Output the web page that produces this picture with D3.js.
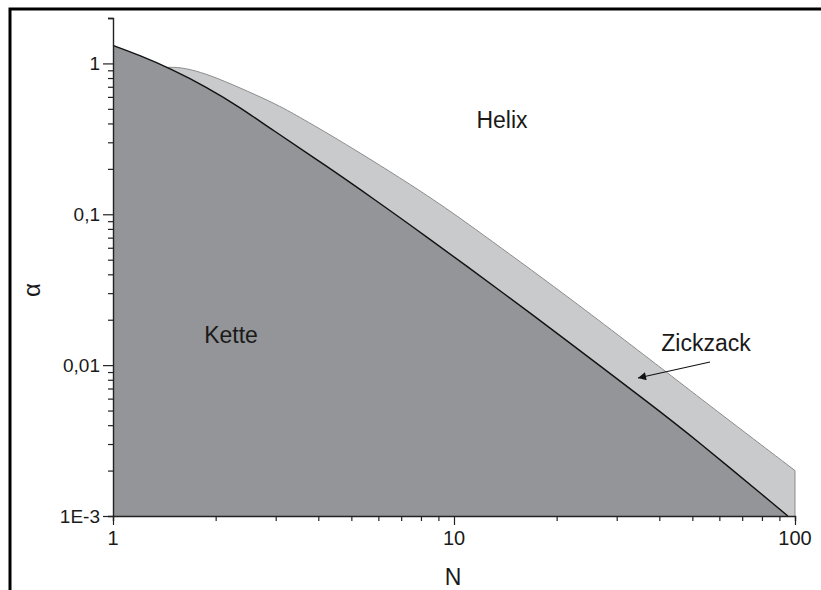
<!DOCTYPE html>
<html><head><meta charset="utf-8">
<script src="https://cdn.jsdelivr.net/npm/d3@7"></script>
<style>body{margin:0;background:#fff}svg{display:block}text{font-family:Arial,"Liberation Sans",sans-serif;fill:#1a1a1a}</style>
</head><body>
<script>
// Kette / Zickzack boundary (black curve)
const ketteN     = [1, 1.2, 1.47, 1.89, 2.36, 2.89, 4.2, 5.87, 7.95, 14.6, 20.5, 38.3, 50, 95.3];
const ketteAlpha = [1.316, 1.13, 0.927, 0.694, 0.511, 0.371, 0.211, 0.1245, 0.0764, 0.0279, 0.01567, 0.00536, 0.00336, 0.001];
// Zickzack / Helix boundary (grey curve)
const zickN     = [1.44, 1.57, 1.8, 2.10, 2.645, 3.09, 3.53, 4.85, 8.67, 12.5, 22.3, 50, 57.5, 100];
const zickAlpha = [0.941, 0.945, 0.88, 0.772, 0.614, 0.52, 0.44, 0.290, 0.1276, 0.0700, 0.0270, 0.00663, 0.00519, 0.0020];
const xTicks = [1, 10, 100];
const xTickLabels = ["1", "10", "100"];
const yTicks = [1, 0.1, 0.01, 0.001];
const yTickLabels = ["1", "0,1", "0,01", "1E-3"];
const regionLabels = ["Helix", "Kette", "Zickzack"];

const W = 821, H = 590;
const svg = d3.select("body").append("svg").attr("width", W).attr("height", H);

const x = d3.scaleLog().domain([1, 100]).range([113, 795]);
const y = d3.scaleLog().domain([0.001, 2]).range([516, 18]);

// outer frame (top & left)
svg.append("path").attr("d", `M10,${H} L10,9 L${W},9`).attr("fill", "none").attr("stroke", "#000").attr("stroke-width", 3);

const kette = ketteN.map((n, i) => [n, ketteAlpha[i]]);
const zick = zickN.map((n, i) => [n, zickAlpha[i]]);

const area = d3.area().x(d => x(d[0])).y0(y(0.001)).y1(d => y(d[1])).curve(d3.curveBasis);
const line = d3.line().x(d => x(d[0])).y(d => y(d[1])).curve(d3.curveBasis);

// Zickzack region
svg.append("path").datum(zick).attr("d", area).attr("fill", "#c9cacc");
svg.append("path").datum(zick).attr("d", line).attr("fill", "none").attr("stroke", "#8c8c8c").attr("stroke-width", 1);
// right vertical edge at N=100
svg.append("line").attr("x1", x(100)).attr("x2", x(100)).attr("y1", y(zickAlpha[zickAlpha.length-1])).attr("y2", y(0.001))
  .attr("stroke", "#8c8c8c").attr("stroke-width", 1);
// Kette region
svg.append("path").datum(kette).attr("d", area).attr("fill", "#939598");
svg.append("path").datum(kette).attr("d", line).attr("fill", "none").attr("stroke", "#111").attr("stroke-width", 1.4);

// Axes
const yAxis = d3.axisLeft(y).tickValues(d3.range(-3, 1).flatMap(e => d3.range(1, 10).map(k => k * Math.pow(10, e))).concat([2]))
  .tickFormat("").tickSizeOuter(0).tickSize(5);
const gy = svg.append("g").attr("transform", "translate(113,0)").call(yAxis);
gy.selectAll(".tick line").attr("stroke", "#222").attr("stroke-width", 1.2)
  .filter(d => yTicks.includes(d)).attr("x2", -10);
gy.select(".domain").attr("stroke", "#222").attr("stroke-width", 1.4);

const xAxis = d3.axisBottom(x).tickValues(d3.range(0, 2).flatMap(e => d3.range(1, 10).map(k => k * Math.pow(10, e))).concat([100]))
  .tickFormat("").tickSizeOuter(0).tickSize(5);
const gx = svg.append("g").attr("transform", `translate(0,${y(0.001)})`).call(xAxis);
gx.selectAll(".tick line").attr("stroke", "#222").attr("stroke-width", 1.2)
  .filter(d => xTicks.includes(d)).attr("y2", 9);
gx.select(".domain").attr("stroke", "#222").attr("stroke-width", 1.4);

// tick labels
yTicks.forEach((v, i) => {
  svg.append("text").attr("x", 100).attr("y", y(v)).attr("dy", "0.36em").attr("text-anchor", "end")
    .attr("font-size", 19).text(yTickLabels[i]);
});
xTicks.forEach((v, i) => {
  svg.append("text").attr("x", x(v)).attr("y", 545).attr("text-anchor", "middle")
    .attr("font-size", 20).text(xTickLabels[i]);
});

// axis titles
svg.append("text").attr("x", 453).attr("y", 585).attr("text-anchor", "middle").attr("font-size", 23).text("N");
svg.append("text").attr("transform", "translate(40,290) rotate(-90)").attr("text-anchor", "middle")
  .attr("font-size", 24).text("α");

// region labels
svg.append("text").attr("x", 502).attr("y", 128).attr("text-anchor", "middle").attr("font-size", 23).text(regionLabels[0]);
svg.append("text").attr("x", 231).attr("y", 343).attr("text-anchor", "middle").attr("font-size", 23).text(regionLabels[1]);
svg.append("text").attr("x", 706).attr("y", 351).attr("text-anchor", "middle").attr("font-size", 23).text(regionLabels[2]);

// arrow
svg.append("defs").append("marker").attr("id", "ah").attr("viewBox", "0 0 10 10").attr("refX", 10).attr("refY", 5)
  .attr("markerWidth", 12).attr("markerHeight", 8).attr("markerUnits", "userSpaceOnUse").attr("orient", "auto")
  .append("path").attr("d", "M0,0 L10,5 L0,10 z").attr("fill", "#111");
svg.append("line").attr("x1", 710).attr("y1", 362).attr("x2", 638).attr("y2", 378)
  .attr("stroke", "#111").attr("stroke-width", 1.2).attr("marker-end", "url(#ah)");
</script>
</body></html>
